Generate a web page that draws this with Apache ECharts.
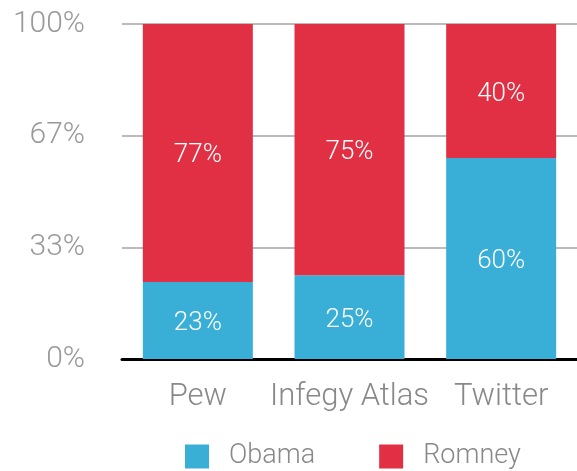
<!DOCTYPE html>
<html>
<head>
<meta charset="utf-8">
<script src="https://cdn.jsdelivr.net/npm/echarts@6/dist/echarts.min.js"></script>
<style>
  html, body { margin: 0; padding: 0; background: #fff; }
  #main { width: 577px; height: 471px; }
</style>
</head>
<body>
<div id="main"></div>
<script>
var categories = ['Pew', 'Infegy Atlas', 'Twitter'];
var obama = [23, 25, 60];
var romney = [77, 75, 40];
var yTicks = ['0%', '33%', '67%', '100%'];

var fontName = 'Roboto';
var chart = echarts.init(document.getElementById('main'));

var labelStyle = {
    show: true,
    position: 'inside',
    offset: [0, 3],
    color: '#fff',
    fontFamily: fontName,
    fontWeight: 300,
    fontSize: 26,
    formatter: function (p) { return p.value + '%'; }
};

var option = {
    animation: false,
    grid: { left: 122, right: 0, top: 24, bottom: 112 },
    legend: {
        bottom: -4,
        left: 180,
        itemWidth: 24,
        itemHeight: 24,
        itemGap: 64,
        icon: 'rect',
        textStyle: { fontFamily: fontName, fontWeight: 300, fontSize: 27, color: '#888', padding: [0, 0, 0, 15] },
        data: ['Obama', 'Romney']
    },
    xAxis: {
        type: 'category',
        data: categories,
        axisTick: { show: false },
        axisLine: { lineStyle: { color: '#000', width: 3 } },
        axisLabel: { fontFamily: fontName, fontWeight: 300, fontSize: 31, color: '#888', margin: 23, interval: 0, hideOverlap: false }
    },
    yAxis: {
        type: 'value',
        min: 0,
        max: 100,
        interval: 100 / 3,
        axisLine: { show: false },
        axisTick: { show: false },
        splitLine: { lineStyle: { color: '#bbb', width: 2 } },
        axisLabel: {
            fontFamily: fontName, fontWeight: 300, fontSize: 30, color: '#999', margin: 37,
            formatter: function (v) { return yTicks[Math.round(v / (100 / 3))]; }
        }
    },
    series: [
        {
            name: 'Obama', type: 'bar', stack: 'total', barWidth: 110,
            itemStyle: { color: '#39AED6' },
            label: labelStyle,
            data: obama
        },
        {
            name: 'Romney', type: 'bar', stack: 'total', barWidth: 110,
            itemStyle: { color: '#E13044' },
            label: labelStyle,
            data: romney
        }
    ]
};
chart.setOption(option);
</script>
</body>
</html>
